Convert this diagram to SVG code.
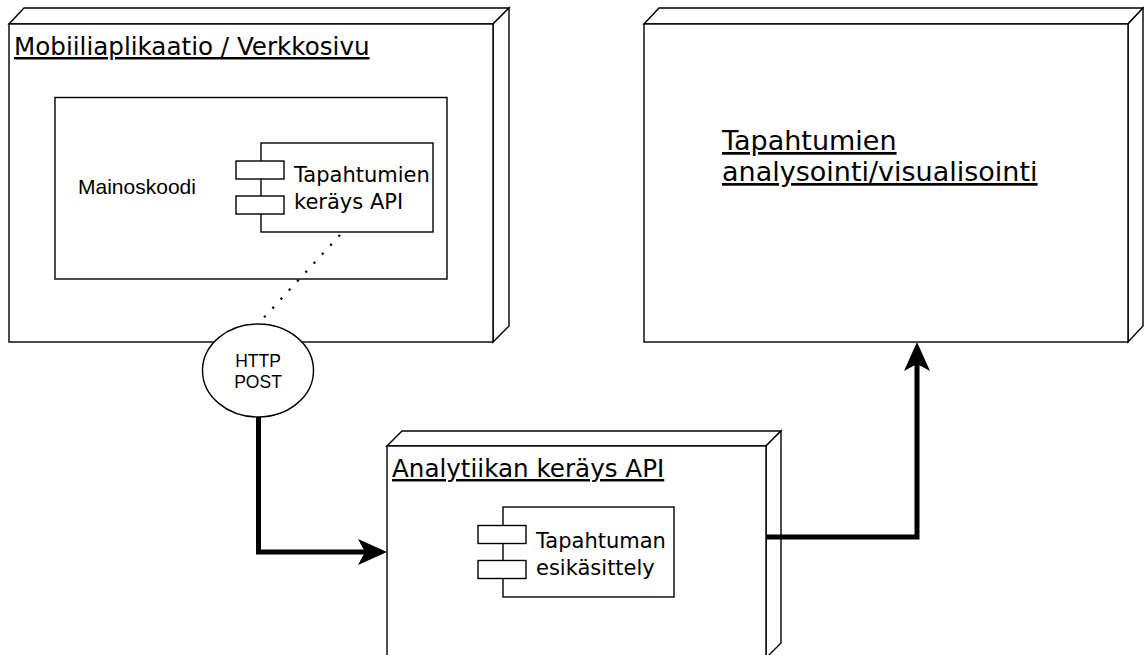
<svg xmlns="http://www.w3.org/2000/svg" width="1144" height="655" viewBox="0 0 1144 655">
  <style>
    .box { fill: #fff; stroke: #000; stroke-width: 1.4; }
    .title { font-family: "DejaVu Sans", Verdana, sans-serif; fill: #000; text-decoration: underline; }
    .comp { font-family: "DejaVu Sans", Verdana, sans-serif; font-size: 21px; fill: #000; }
    .plain { font-family: "Liberation Sans", Arial, Helvetica, sans-serif; fill: #000; }
    .flow { fill: none; stroke: #000; stroke-width: 5; }
  </style>
  <defs>
    <marker id="classic" markerUnits="userSpaceOnUse" viewBox="0 -14 30 28" markerWidth="30" markerHeight="28" refX="7" refY="0" orient="auto">
      <path d="M0,-13 L29,0 L0,13 L7,0 Z" fill="#000"/>
    </marker>
  </defs>

  <rect width="1144" height="655" fill="#fff"/>

  <!-- Node: mobile app / web page -->
  <g id="node-mobiili">
    <path class="box" d="M9,24 L24,8 H509 L493,24 Z"/>
    <path class="box" d="M493,24 L509,8 V326 L493,342 Z"/>
    <rect class="box" x="9" y="24" width="484" height="318"/>
    <text class="title" x="14" y="55" font-size="24.6">Mobiiliaplikaatio / Verkkosivu</text>
  </g>

  <!-- Ad code container -->
  <g id="node-mainoskoodi">
    <rect class="box" x="55" y="97.5" width="392" height="181.5"/>
    <text class="plain" x="78" y="194" font-size="21">Mainoskoodi</text>
  </g>

  <!-- Component: event collection API -->
  <g id="comp-keraysapi">
    <rect class="box" x="261" y="143" width="172" height="89"/>
    <rect class="box" x="236" y="161" width="48" height="18"/>
    <rect class="box" x="236" y="196" width="48" height="18"/>
    <text class="comp" x="294" y="182">Tapahtumien</text>
    <text class="comp" x="294" y="209">keräys API</text>
  </g>

  <!-- Node: analysis / visualisation -->
  <g id="node-analysointi">
    <path class="box" d="M644,24 L659,8 H1143 L1128,24 Z"/>
    <path class="box" d="M1128,24 L1143,8 V326 L1128,342 Z"/>
    <rect class="box" x="644" y="24" width="484" height="318"/>
    <text class="title" x="722" y="150" font-size="27">Tapahtumien</text>
    <text class="title" x="722" y="181" font-size="27">analysointi/visualisointi</text>
  </g>

  <!-- Node: analytics collection API -->
  <g id="node-analytiikka">
    <path class="box" d="M387,446 L402,431 H781 L766,446 Z"/>
    <path class="box" d="M766,446 L781,431 V643 L766,658 Z"/>
    <rect class="box" x="387" y="446" width="379" height="212"/>
    <text class="title" x="392" y="477" font-size="24.6">Analytiikan keräys API</text>
  </g>

  <!-- Component: event preprocessing -->
  <g id="comp-esikasittely">
    <rect class="box" x="503" y="507" width="171" height="90"/>
    <rect class="box" x="478" y="525.5" width="48" height="18"/>
    <rect class="box" x="478" y="560.5" width="48" height="18"/>
    <text class="comp" x="536" y="548">Tapahtuman</text>
    <text class="comp" x="536" y="575">esikäsittely</text>
  </g>

  <!-- Connectors -->
  <g id="connectors">
    <line x1="340" y1="235" x2="258" y2="324" stroke="#000" stroke-width="2.2" stroke-dasharray="2.2 10"/>
    <path class="flow" d="M258.5,417 V552 H365" marker-end="url(#classic)"/>
    <path class="flow" d="M766,537 H917 V364" marker-end="url(#classic)"/>
  </g>

  <!-- Interface: HTTP POST -->
  <g id="node-httppost">
    <ellipse class="box" cx="258" cy="370.5" rx="55.5" ry="46.5"/>
    <text class="plain" x="258" y="367" font-size="17.5" text-anchor="middle">HTTP</text>
    <text class="plain" x="258" y="388" font-size="17.5" text-anchor="middle">POST</text>
  </g>
</svg>
